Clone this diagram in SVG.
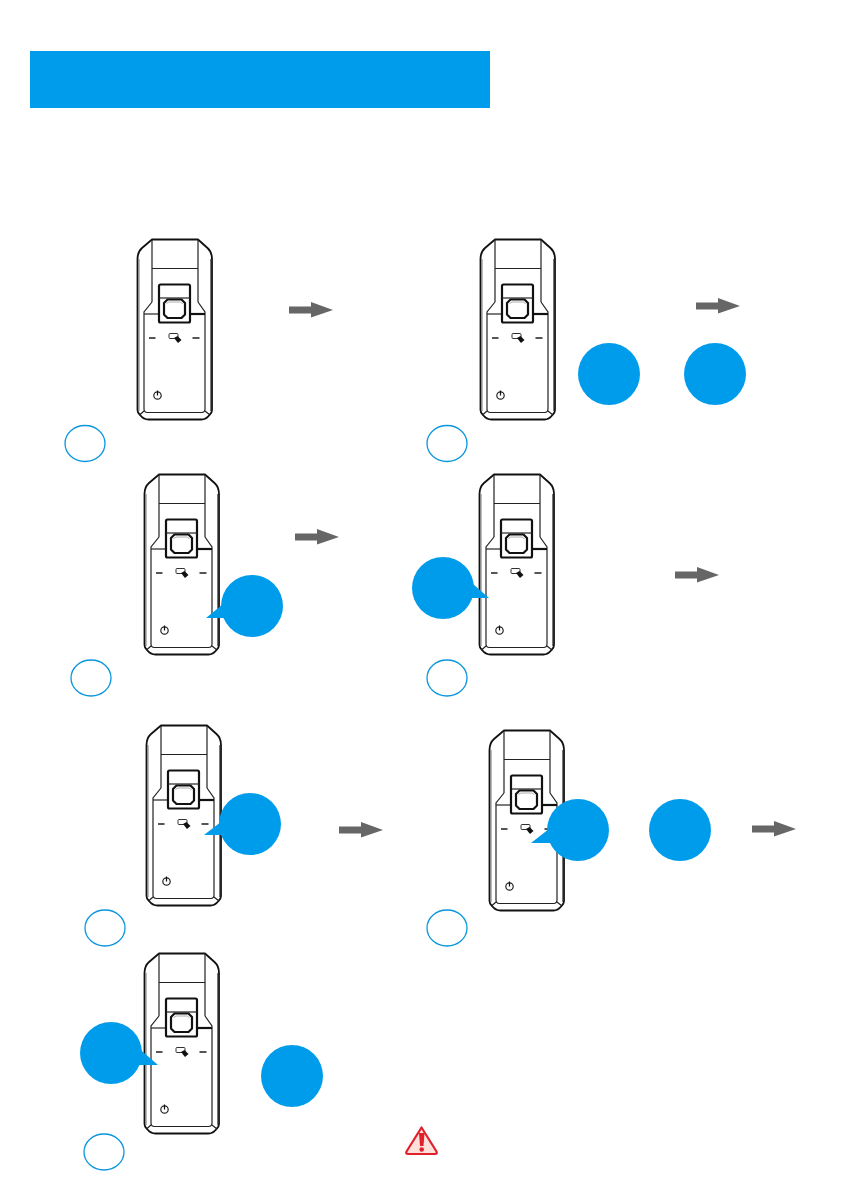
<svg xmlns="http://www.w3.org/2000/svg" width="850" height="1191" viewBox="0 0 850 1191">
<style>
.o{fill:none;stroke:#111;stroke-width:1.800;stroke-linejoin:round}
.i{fill:none;stroke:#777;stroke-width:1}
.t{fill:none;stroke:#222;stroke-width:1.200}
.k{fill:none;stroke:#111;stroke-width:2.200;stroke-linejoin:round}
.d{fill:none;stroke:#555;stroke-width:1.800}
.ring{fill:#fff;stroke:#0a96de;stroke-width:1.300}
.b{fill:#009cec}
.a{fill:#666}
</style>
<defs>
<g id="device">
<path class="o" d="M14.500 0.500H60.500L70 9Q74.500 13 74.500 20V171Q74.500 174 72 176Q68.500 180.500 64 180.500H11Q6 180.500 2.500 176Q0 174 0 171V20Q0 13 4.500 9Z"/>
<path class="i" d="M1.500 20V172M73 20V172"/>
<path class="t" d="M14.500 0.500V63M60.500 0.500V63M14.500 29.500H60.500"/>
<path class="t" d="M14.500 63L6.500 73V170Q6.500 173.500 10 173.500H64Q67.500 173.500 67.500 170V73L60.500 63"/>
<path class="t" d="M2 176L6.500 172M72.500 176L67.500 172"/>
<path class="t" d="M6.500 75H21"/>
<path class="k" d="M52.500 75H67.500"/>
<rect class="k" x="21.500" y="45.500" width="31" height="38" rx="1.500"/>
<path class="t" d="M21.500 59H52.500"/>
<path class="k" d="M30 60.500H44L47.500 64V75.500L44 79H30L26.500 75.500V64Z"/>
<path d="M29 64.500L31.500 63H43L45 65" fill="none" stroke="#999" stroke-width="0.800"/>
<path class="d" d="M11.500 99H18M55 99H62"/>
<rect x="31.500" y="94.500" width="9" height="5" rx="1" fill="#fff" stroke="#333" stroke-width="1"/>
<path d="M36.500 99L40 97L44 101L40.500 104Z" fill="#111"/>
<circle cx="20" cy="156.500" r="3.700" class="t"/>
<path d="M20 151.500V156.500" stroke="#111" stroke-width="1.200"/>
</g>
<path id="arrow" class="a" d="M0 -3.500H22V-8L44 0L22 7.500V3.500H0Z"/>
</defs>
<g id="header"><rect x="30" y="51" width="460" height="57" class="b"/></g>
<g id="step1"><use href="#device" x="137.500" y="239"/><ellipse class="ring" cx="85" cy="443.500" rx="20" ry="18"/></g>
<g id="step2"><use href="#device" x="480.500" y="239"/><ellipse class="ring" cx="447" cy="443.500" rx="20" ry="18"/><circle class="b" cx="609" cy="374" r="31"/><circle class="b" cx="715" cy="374" r="31"/></g>
<g id="step3"><use href="#device" x="144.500" y="474"/><ellipse class="ring" cx="91" cy="678" rx="20" ry="18"/><path class="b" d="M206 618L228 600L235 618Z"/><circle class="b" cx="252" cy="606" r="31"/></g>
<g id="step4"><use href="#device" x="479.500" y="474"/><ellipse class="ring" cx="447" cy="678" rx="20" ry="18"/><path class="b" d="M489 598L466 578L462 598Z"/><circle class="b" cx="443" cy="588" r="31"/></g>
<g id="step5"><use href="#device" x="146.500" y="725"/><ellipse class="ring" cx="105" cy="928" rx="20" ry="18"/><path class="b" d="M204 835L226 818L233 835Z"/><circle class="b" cx="250" cy="824" r="31"/></g>
<g id="step6"><use href="#device" x="489.500" y="730"/><ellipse class="ring" cx="447" cy="928" rx="20" ry="18"/><path class="b" d="M531 843L554 825L560 843Z"/><circle class="b" cx="578" cy="830" r="31"/><circle class="b" cx="680" cy="830" r="31"/></g>
<g id="step7"><use href="#device" x="144.500" y="953"/><ellipse class="ring" cx="104" cy="1152" rx="20" ry="18"/><path class="b" d="M158 1065L135 1045L130 1065Z"/><circle class="b" cx="111" cy="1053" r="31"/><circle class="b" cx="292" cy="1076" r="31"/></g>
<g id="connectors">
<use href="#arrow" x="289" y="310"/>
<use href="#arrow" x="696" y="306"/>
<use href="#arrow" x="295" y="537"/>
<use href="#arrow" x="675" y="575"/>
<use href="#arrow" x="339" y="830"/>
<use href="#arrow" x="752" y="829"/>
</g>
<g id="warning">
<path d="M421.500 1127.500L436.500 1151.500Q437.500 1154 435 1154H408Q405.500 1154 406.500 1151.500Z" fill="#fde0da" stroke="#e0202c" stroke-width="2.200" stroke-linejoin="round"/>
<path d="M419 1133H424.500L423.500 1146H420Z" fill="#e0202c"/>
<circle cx="421.700" cy="1149.500" r="2.300" fill="#e0202c"/>
</g>
</svg>
